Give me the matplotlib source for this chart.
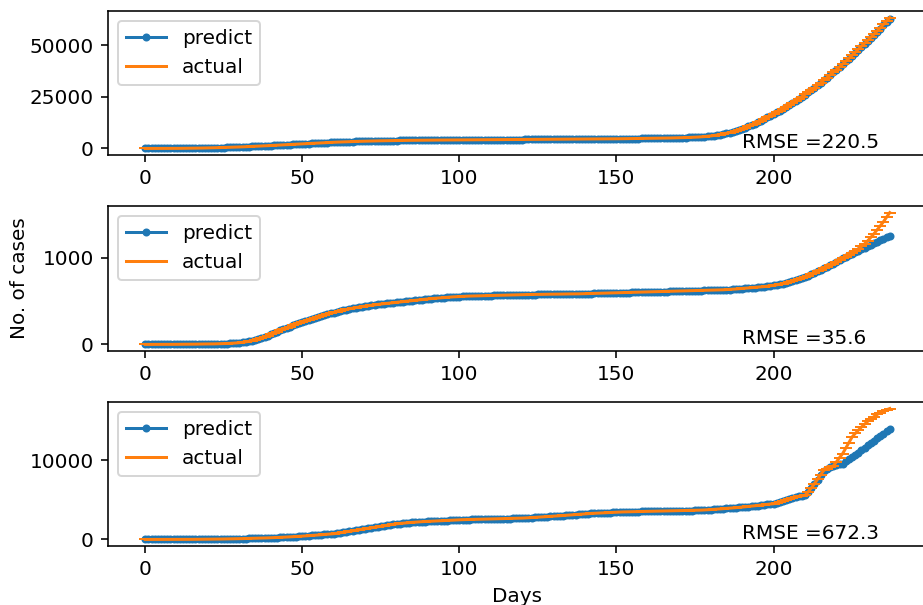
import matplotlib
matplotlib.use("Agg")
import matplotlib.pyplot as plt

days = list(range(238))

actual_1 = [
    1, 1, 2, 3, 5, 7, 10, 14, 20, 28,
    38, 50, 65, 82, 100, 120, 145, 170, 200, 230,
    265, 300, 340, 380, 420, 465, 510, 560, 610, 665,
    720, 780, 845, 910, 980, 1050, 1120, 1195, 1270, 1345,
    1420, 1500, 1580, 1660, 1740, 1820, 1900, 1980, 2060, 2140,
    2220, 2300, 2380, 2460, 2540, 2620, 2700, 2780, 2860, 2940,
    3000, 3060, 3120, 3180, 3235, 3290, 3340, 3390, 3435, 3480,
    3520, 3560, 3600, 3635, 3670, 3700, 3730, 3760, 3785, 3810,
    3835, 3860, 3880, 3900, 3920, 3940, 3960, 3975, 3990, 4005,
    4020, 4035, 4050, 4060, 4070, 4080, 4090, 4100, 4110, 4120,
    4130, 4140, 4150, 4160, 4170, 4180, 4190, 4200, 4210, 4220,
    4230, 4240, 4250, 4260, 4270, 4280, 4290, 4300, 4310, 4320,
    4330, 4340, 4350, 4360, 4370, 4380, 4390, 4400, 4410, 4420,
    4430, 4440, 4450, 4460, 4470, 4480, 4490, 4500, 4510, 4520,
    4530, 4540, 4550, 4565, 4580, 4595, 4610, 4625, 4640, 4655,
    4670, 4690, 4710, 4730, 4750, 4770, 4790, 4810, 4830, 4850,
    4870, 4895, 4920, 4945, 4970, 5000, 5030, 5060, 5095, 5130,
    5170, 5210, 5260, 5310, 5370, 5440, 5520, 5620, 5740, 5880,
    6050, 6250, 6480, 6740, 7030, 7350, 7700, 8080, 8490, 8930,
    9400, 10000, 10650, 11300, 12000, 12700, 13450, 14200, 15000, 15800,
    16600, 17450, 18300, 19200, 20100, 21050, 22000, 23000, 24000, 25050,
    26100, 27200, 28300, 29450, 30600, 31800, 33000, 34250, 35500, 36800,
    38100, 39450, 40800, 42200, 43600, 45050, 46500, 48000, 49500, 50900,
    52300, 53800, 55300, 56850, 58400, 60000, 61600, 63300,
]
predict_1 = [
    0, 1, 1, 2, 4, 6, 9, 13, 18, 26,
    35, 47, 62, 79, 97, 117, 142, 167, 196, 226,
    260, 296, 335, 376, 416, 460, 505, 555, 605, 660,
    715, 775, 840, 905, 975, 1045, 1115, 1190, 1265, 1340,
    1415, 1495, 1575, 1655, 1735, 1815, 1895, 1975, 2055, 2135,
    2215, 2295, 2375, 2455, 2535, 2615, 2695, 2775, 2855, 2935,
    2995, 3055, 3115, 3175, 3230, 3285, 3335, 3385, 3430, 3475,
    3515, 3555, 3595, 3630, 3665, 3695, 3725, 3755, 3780, 3805,
    3830, 3855, 3875, 3895, 3915, 3935, 3955, 3970, 3985, 4000,
    4015, 4030, 4045, 4055, 4065, 4075, 4085, 4095, 4105, 4115,
    4125, 4135, 4145, 4155, 4165, 4175, 4185, 4195, 4205, 4215,
    4225, 4235, 4245, 4255, 4265, 4275, 4285, 4295, 4305, 4315,
    4325, 4335, 4345, 4355, 4365, 4375, 4385, 4395, 4405, 4415,
    4425, 4435, 4445, 4455, 4465, 4475, 4485, 4495, 4505, 4515,
    4525, 4535, 4545, 4560, 4575, 4590, 4605, 4620, 4635, 4650,
    4665, 4685, 4705, 4725, 4745, 4765, 4785, 4805, 4825, 4845,
    4865, 4890, 4915, 4940, 4965, 4995, 5025, 5055, 5090, 5125,
    5165, 5205, 5255, 5305, 5365, 5435, 5515, 5610, 5730, 5870,
    6040, 6240, 6470, 6730, 7020, 7340, 7690, 8070, 8480, 8920,
    9390, 9980, 10630, 11280, 11980, 12680, 13430, 14180, 14980, 15780,
    16580, 17420, 18270, 19170, 20070, 21020, 21970, 22960, 23960, 25000,
    26050, 27150, 28250, 29400, 30550, 31750, 32950, 34200, 35450, 36750,
    38050, 39380, 40700, 42050, 43450, 44900, 46300, 47750, 49200, 50600,
    52000, 53500, 55000, 56500, 58000, 59500, 61000, 62600,
]

actual_2 = [
    0, 0, 0, 0, 0, 0, 0, 1, 1, 1,
    1, 2, 2, 2, 3, 3, 3, 4, 4, 5,
    5, 6, 6, 7, 8, 9, 10, 12, 14, 17,
    20, 24, 29, 35, 43, 52, 63, 75, 88, 102,
    117, 132, 147, 162, 177, 192, 207, 222, 237, 250,
    263, 275, 287, 298, 309, 320, 331, 341, 351, 361,
    370, 379, 388, 396, 404, 412, 419, 426, 432, 438,
    443, 448, 453, 458, 463, 467, 471, 475, 479, 483,
    487, 491, 495, 499, 503, 507, 511, 515, 519, 523,
    527, 530, 533, 536, 539, 542, 545, 548, 550, 552,
    554, 556, 558, 559, 560, 561, 562, 563, 564, 565,
    566, 567, 568, 569, 570, 571, 572, 573, 574, 575,
    576, 577, 577, 578, 578, 579, 579, 580, 580, 581,
    581, 582, 582, 583, 583, 584, 584, 585, 585, 586,
    587, 588, 589, 590, 591, 592, 593, 594, 595, 596,
    597, 598, 599, 600, 601, 602, 603, 604, 605, 606,
    607, 608, 609, 610, 611, 612, 613, 614, 615, 616,
    617, 618, 619, 620, 621, 622, 623, 624, 625, 626,
    627, 628, 629, 630, 632, 634, 636, 638, 641, 644,
    647, 650, 653, 656, 659, 662, 665, 669, 673, 678,
    683, 689, 696, 704, 713, 723, 734, 746, 758, 770,
    783, 797, 812, 828, 845, 863, 881, 899, 917, 936,
    956, 976, 996, 1016, 1036, 1057, 1080, 1105, 1133, 1165,
    1200, 1240, 1282, 1326, 1372, 1420, 1472, 1525,
]
predict_2 = [
    0, 0, 0, 0, 0, 0, 0, 0, 1, 1,
    1, 1, 2, 2, 2, 3, 3, 3, 4, 4,
    5, 5, 6, 6, 7, 8, 9, 11, 13, 16,
    19, 23, 28, 34, 42, 51, 62, 74, 87, 101,
    116, 131, 146, 161, 176, 191, 206, 221, 236, 249,
    262, 274, 286, 297, 308, 319, 330, 340, 350, 360,
    369, 378, 387, 395, 403, 411, 418, 425, 431, 437,
    442, 447, 452, 457, 462, 466, 470, 474, 478, 482,
    486, 490, 494, 498, 502, 506, 510, 514, 518, 522,
    526, 529, 532, 535, 538, 541, 544, 547, 549, 551,
    553, 555, 557, 558, 559, 560, 561, 562, 563, 564,
    565, 566, 567, 568, 569, 570, 571, 572, 573, 574,
    575, 576, 576, 577, 577, 578, 578, 579, 579, 580,
    580, 581, 581, 582, 582, 583, 583, 584, 584, 585,
    586, 587, 588, 589, 590, 591, 592, 593, 594, 595,
    596, 597, 598, 599, 600, 601, 602, 603, 604, 605,
    606, 607, 608, 609, 610, 611, 612, 613, 614, 615,
    616, 617, 618, 619, 620, 621, 622, 623, 624, 625,
    626, 627, 628, 629, 631, 633, 635, 637, 640, 643,
    646, 649, 652, 655, 658, 661, 664, 668, 672, 677,
    682, 688, 695, 703, 712, 722, 733, 745, 757, 769,
    782, 796, 811, 827, 844, 862, 880, 898, 916, 935,
    955, 975, 994, 1013, 1032, 1050, 1068, 1086, 1103, 1120,
    1137, 1154, 1171, 1188, 1205, 1222, 1239, 1255,
]

actual_3 = [
    0, 0, 0, 0, 0, 0, 1, 1, 2, 3,
    4, 5, 7, 9, 11, 14, 17, 20, 24, 28,
    32, 37, 42, 48, 54, 60, 67, 74, 82, 90,
    99, 108, 118, 128, 139, 150, 162, 174, 187, 200,
    214, 230, 247, 265, 284, 304, 325, 347, 370, 394,
    420, 447, 475, 504, 534, 565, 597, 630, 664, 700,
    725, 780, 840, 900, 960, 1020, 1090, 1160, 1230, 1290,
    1350, 1410, 1470, 1530, 1590, 1650, 1720, 1790, 1860, 1920,
    1980, 2020, 2060, 2095, 2130, 2160, 2190, 2220, 2245, 2265,
    2280, 2300, 2320, 2340, 2360, 2380, 2400, 2420, 2445, 2470,
    2490, 2500, 2510, 2520, 2530, 2540, 2550, 2560, 2570, 2580,
    2590, 2600, 2610, 2620, 2630, 2640, 2650, 2660, 2675, 2690,
    2700, 2720, 2740, 2765, 2790, 2815, 2840, 2865, 2890, 2915,
    2940, 2970, 3000, 3030, 3060, 3090, 3120, 3150, 3180, 3215,
    3250, 3270, 3290, 3310, 3330, 3350, 3370, 3390, 3410, 3435,
    3460, 3470, 3480, 3490, 3500, 3510, 3520, 3530, 3540, 3550,
    3560, 3568, 3576, 3584, 3592, 3600, 3608, 3616, 3624, 3632,
    3640, 3646, 3652, 3658, 3664, 3670, 3690, 3710, 3730, 3750,
    3770, 3800, 3830, 3860, 3890, 3920, 3950, 3980, 4010, 4050,
    4090, 4130, 4170, 4210, 4250, 4290, 4340, 4390, 4440, 4480,
    4510, 4600, 4700, 4850, 5000, 5150, 5250, 5360, 5450, 5520,
    5570, 6000, 6500, 7050, 7600, 8200, 8740, 8950, 9150, 9280,
    9800, 10350, 10850, 11550, 12250, 12950, 13400, 13820, 14220, 14580,
    14940, 15280, 15540, 15800, 16040, 16220, 16400, 16550,
]
predict_3 = [
    0, 0, 0, 0, 0, 0, 0, 1, 1, 2,
    3, 4, 6, 8, 10, 13, 16, 19, 23, 27,
    31, 36, 41, 47, 53, 59, 66, 73, 81, 89,
    98, 107, 117, 127, 138, 149, 161, 173, 186, 199,
    213, 229, 246, 264, 283, 303, 324, 346, 369, 393,
    419, 446, 474, 503, 533, 564, 596, 629, 663, 699,
    724, 775, 835, 895, 955, 1015, 1085, 1155, 1225, 1285,
    1345, 1405, 1465, 1525, 1585, 1645, 1715, 1785, 1855, 1915,
    1975, 2015, 2055, 2090, 2125, 2155, 2185, 2215, 2240, 2260,
    2275, 2295, 2315, 2335, 2355, 2375, 2395, 2415, 2440, 2465,
    2485, 2495, 2505, 2515, 2525, 2535, 2545, 2555, 2565, 2575,
    2585, 2595, 2605, 2615, 2625, 2635, 2645, 2655, 2670, 2685,
    2695, 2715, 2735, 2760, 2785, 2810, 2835, 2860, 2885, 2910,
    2935, 2965, 2995, 3025, 3055, 3085, 3115, 3145, 3175, 3210,
    3245, 3265, 3285, 3305, 3325, 3345, 3365, 3385, 3405, 3430,
    3455, 3465, 3475, 3485, 3495, 3505, 3515, 3525, 3535, 3545,
    3555, 3563, 3571, 3579, 3587, 3595, 3603, 3611, 3619, 3627,
    3635, 3641, 3647, 3653, 3659, 3665, 3685, 3705, 3725, 3745,
    3765, 3795, 3825, 3855, 3885, 3915, 3945, 3975, 4005, 4045,
    4085, 4125, 4165, 4205, 4245, 4285, 4335, 4385, 4435, 4475,
    4505, 4590, 4690, 4840, 4990, 5140, 5240, 5350, 5440, 5510,
    5560, 5950, 6450, 7000, 7550, 8150, 8700, 8920, 9130, 9270,
    9380, 9480, 9580, 9860, 10140, 10420, 10700, 10990, 11270, 11580,
    11890, 12200, 12490, 12790, 13080, 13390, 13700, 14010,
]

rmse_labels = ["RMSE =220.5", "RMSE =35.6", "RMSE =672.3"]
yticks = [[0, 25000, 50000], [0, 1000], [0, 10000]]
xticks = [0, 50, 100, 150, 200]

W, H = 923.0, 605.0
DPI = W / 6.4
fig = plt.figure(figsize=(6.4, H / DPI), dpi=DPI)
left = 108 / W
width = (927 - 108) / W
rects = [(11, 155), (206, 351), (402, 546)]

panels = [(predict_1, actual_1), (predict_2, actual_2), (predict_3, actual_3)]
axes = []
for i, ((top, bot), (pred, act)) in enumerate(zip(rects, panels)):
    ax = fig.add_axes([left, 1 - bot / H, width, (bot - top) / H])
    ax.plot(days, pred, marker='.', color='#1f77b4', label='predict')
    ax.plot(days, act, marker='_', color='#ff7f0e', label='actual')
    ax.set_yticks(yticks[i])
    ax.set_xticks(xticks)
    ax.legend(loc='upper left')
    ax.text(190, 0, rmse_labels[i])
    axes.append(ax)

axes[2].set_xlabel('Days')
fig.text(20 / W, 1 - 278 / H, 'No. of cases', rotation=90, ha='center', va='center')

fig.savefig('out.png', dpi=DPI)
